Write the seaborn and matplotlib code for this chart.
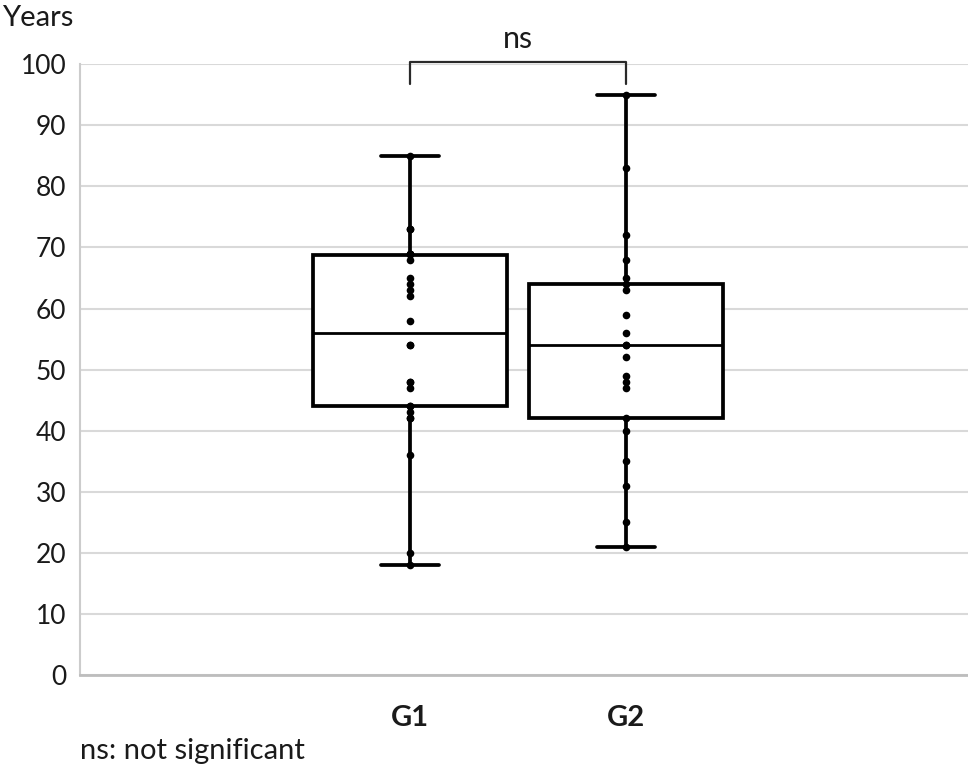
import pandas as pd
import seaborn as sns
import matplotlib.pyplot as plt

# Ages (duplicates overlap in the original dots)
g1_years = [18, 20, 36, 42, 42, 43, 44, 44, 47, 48, 48, 54, 54,
            58, 62, 63, 64, 65, 68, 69, 69, 69, 69, 73, 73, 85]
g2_years = [21, 25, 31, 35, 40, 42, 47, 48, 49, 52, 54,
            54, 56, 59, 63, 64, 65, 68, 72, 83, 95]
groups = ['G1', 'G2']
y_ticks = list(range(0, 101, 10))

df = pd.DataFrame({
    'Group': ['G1'] * len(g1_years) + ['G2'] * len(g2_years),
    'Years': g1_years + g2_years,
})

sns.set_style('white')
plt.rcParams['font.family'] = ['Lato', 'DejaVu Sans']

fig = plt.figure(figsize=(9.68, 7.74), dpi=100)
ax = fig.add_axes([0.083, 0.128, 0.917, 0.789])

ax.yaxis.grid(True, color='#d9d9d9', linewidth=1.5, zorder=0)
ax.set_axisbelow(True)

sns.boxplot(data=df, x='Group', y='Years', order=groups, ax=ax,
            width=0.9, whis=(0, 100), color='white', linecolor='black',
            linewidth=2.7, capwidths=0.27,
            medianprops=dict(linewidth=2.0, color='black'))
sns.stripplot(data=df, x='Group', y='Years', order=groups, ax=ax,
              jitter=False, color='black', size=5.5, zorder=5)

ax.set_xlim(-1.528, 2.583)
ax.set_ylim(0, 100)
ax.set_yticks(y_ticks)
ax.tick_params(axis='y', labelsize=19, length=0, pad=10, colors='#1a1a1a')
ax.tick_params(axis='x', labelsize=21, length=0, pad=22, colors='#1a1a1a')
for lbl in ax.get_xticklabels():
    lbl.set_fontweight('bold')
ax.set_xlabel('')
ax.set_ylabel('')

for side in ['top', 'right']:
    ax.spines[side].set_visible(False)
ax.spines['left'].set_color('#cccccc')
ax.spines['left'].set_linewidth(1.5)
ax.spines['bottom'].set_color('#bdbdbd')
ax.spines['bottom'].set_linewidth(2.0)

# significance bracket
ax.plot([0, 0, 1, 1], [96.8, 100.3, 100.3, 96.8], color='#2a2a2a',
        linewidth=1.6, clip_on=False, zorder=6, solid_joinstyle='round')
ax.text(0.5, 102.6, 'ns', ha='center', va='baseline', fontsize=22,
        color='#1a1a1a')

fig.text(0.002, 0.977, 'Years', ha='left', va='center', fontsize=21,
         color='#1a1a1a')
fig.text(0.083, 0.03, 'ns: not significant', ha='left', va='center',
         fontsize=21, color='#1a1a1a')

plt.savefig('out.png', dpi=100)
